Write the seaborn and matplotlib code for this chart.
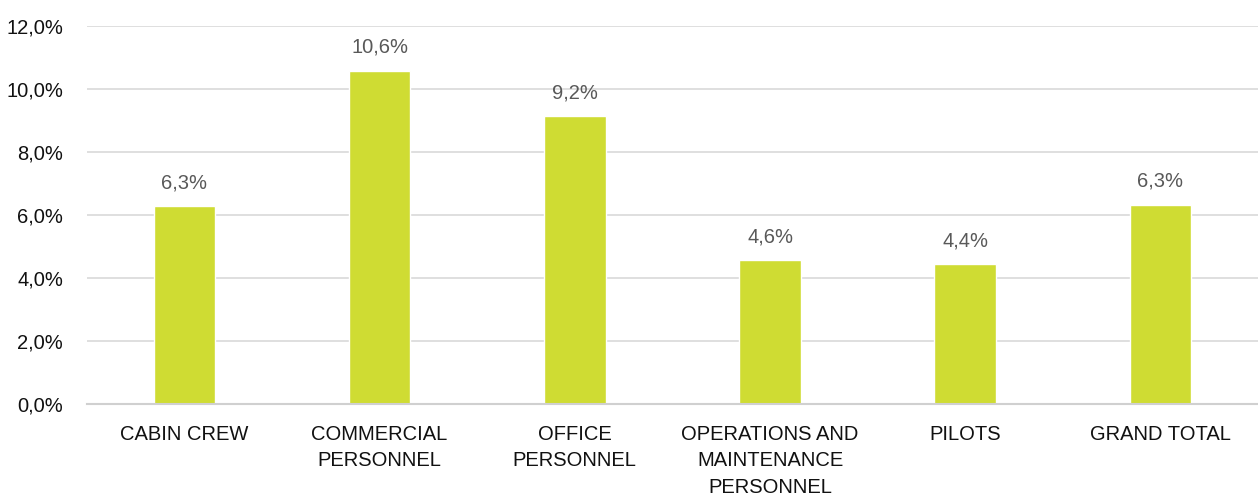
import matplotlib
matplotlib.use('Agg')
import matplotlib.pyplot as plt
from matplotlib import font_manager
from matplotlib.ticker import MultipleLocator, FuncFormatter
import seaborn as sns
import pandas as pd

# dados do grafico
categories = ['CABIN CREW', 'COMMERCIAL\nPERSONNEL', 'OFFICE\nPERSONNEL',
              'OPERATIONS AND\nMAINTENANCE\nPERSONNEL', 'PILOTS', 'GRAND TOTAL']
values = [6.27, 10.58, 9.13, 4.56, 4.44, 6.33]
labels = ['6,3%', '10,6%', '9,2%', '4,6%', '4,4%', '6,3%']

df = pd.DataFrame({'category': categories, 'value': values})

sns.set_style('white')
names = {f.name for f in font_manager.fontManager.ttflist}
family = 'Liberation Sans Narrow' if 'Liberation Sans Narrow' in names else 'Liberation Sans'
plt.rcParams['font.family'] = [family, 'DejaVu Sans']

fig = plt.figure(figsize=(12.58, 4.97), dpi=100)
ax = fig.add_axes([0.069, 0.187, 0.931, 0.761])

sns.barplot(data=df, x='category', y='value', color='#cfdc33', width=0.315,
            saturation=1, ax=ax)

ax.set_ylim(0, 12)
ax.yaxis.set_major_locator(MultipleLocator(2))
ax.yaxis.set_major_formatter(FuncFormatter(lambda v, p: '{:.1f}%'.format(v).replace('.', ',')))
ax.set_xlim(-0.5, len(categories) - 0.5)

# valores em cima das barras
ax.bar_label(ax.containers[0], labels=labels, padding=10, fontsize=14.5, color='#595959')

# grid e eixos
ax.set_axisbelow(True)
ax.grid(axis='y', color='#d9d9d9', linewidth=1.2)
for s in ['top', 'right', 'left']:
    ax.spines[s].set_visible(False)
ax.spines['bottom'].set_color('#d0d0d0')
ax.spines['bottom'].set_linewidth(1.5)

ax.tick_params(axis='both', length=0, labelsize=14.5, colors='#111111')
ax.tick_params(axis='x', pad=15)
ax.tick_params(axis='y', pad=17)
for t in ax.get_xticklabels():
    t.set_linespacing(1.5)
ax.set_xlabel('')
ax.set_ylabel('')

plt.savefig('out.png', dpi=100)
plt.close()
